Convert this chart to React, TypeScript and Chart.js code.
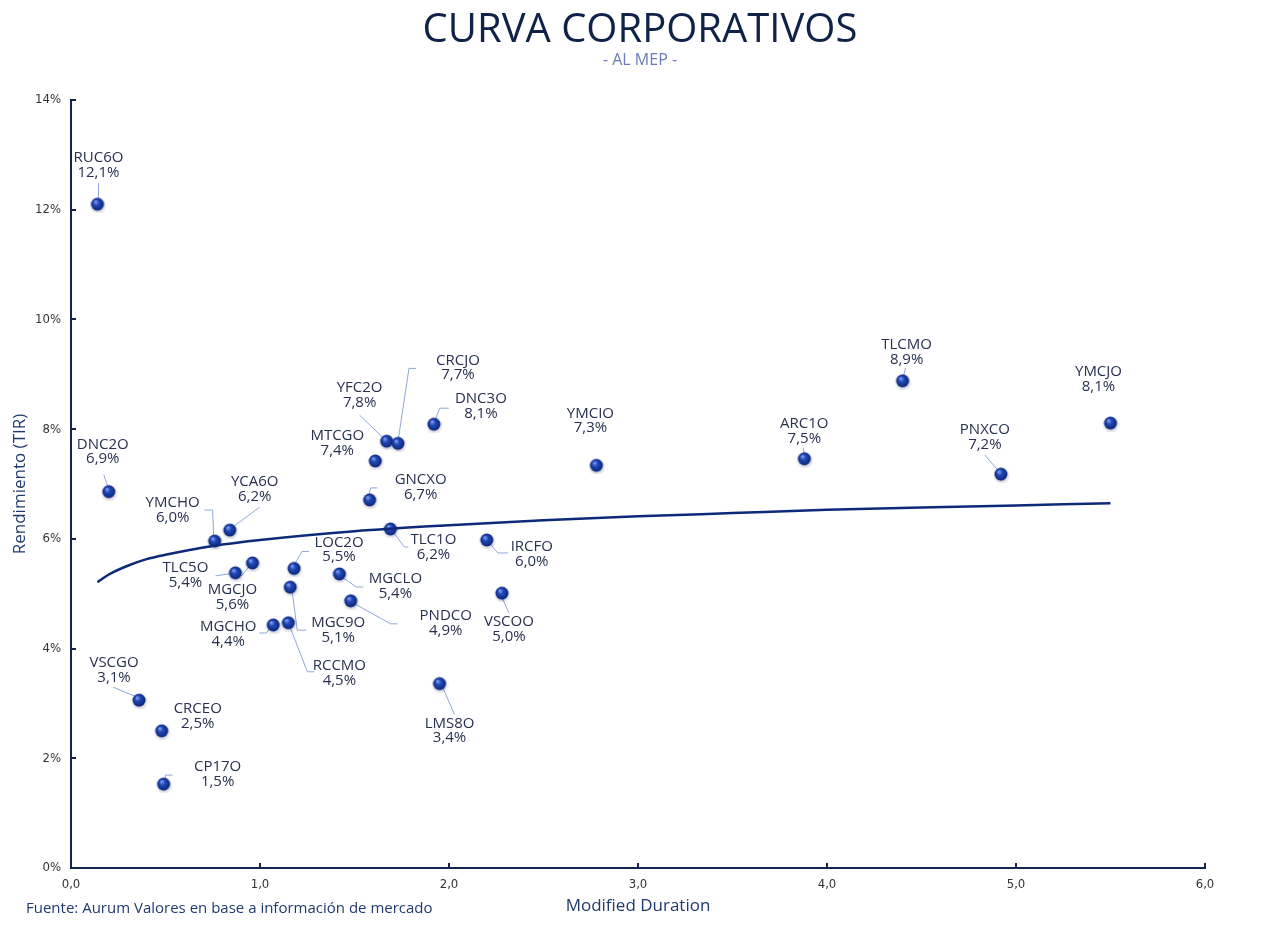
import React, { useEffect, useRef } from "react";
import { Chart, registerables } from "chart.js";

Chart.register(...registerables);

// ---------- DATA ----------
const bondNames = [
  "RUC6O", "DNC2O", "YMCHO", "YCA6O", "TLC5O", "MGCJO", "LOC2O", "MGC9O", "MGCHO", "RCCMO",
  "MGCLO", "PNDCO", "MTCGO", "GNCXO", "YFC2O", "CRCJO", "DNC3O", "TLC1O", "IRCFO", "VSCOO",
  "LMS8O", "YMCIO", "ARC1O", "TLCMO", "PNXCO", "YMCJO", "VSCGO", "CRCEO", "CP17O",
];
const durations = [
  0.14, 0.2, 0.76, 0.84, 0.87, 0.96, 1.18, 1.16, 1.07, 1.15,
  1.42, 1.48, 1.61, 1.58, 1.67, 1.73, 1.92, 1.69, 2.2, 2.28,
  1.95, 2.78, 3.88, 4.4, 4.92, 5.5, 0.36, 0.48, 0.49,
];
const yields = [
  12.1, 6.86, 5.96, 6.16, 5.38, 5.56, 5.46, 5.12, 4.43, 4.47,
  5.36, 4.87, 7.42, 6.71, 7.78, 7.74, 8.09, 6.18, 5.98, 5.01,
  3.36, 7.34, 7.46, 8.88, 7.18, 8.11, 3.06, 2.5, 1.53,
];
const trendDurations = [0.14, 0.2, 0.3, 0.4, 0.5, 0.75, 1.0, 1.5, 2.0, 2.5, 3.0, 3.5, 4.0, 4.5, 5.0, 5.5];
const trendYields = [5.21, 5.35, 5.51, 5.63, 5.71, 5.87, 5.98, 6.14, 6.25, 6.34, 6.41, 6.47, 6.53, 6.57, 6.61, 6.65];
const yTickValues = [0, 2, 4, 6, 8, 10, 12, 14];
const xTickValues = [0, 1, 2, 3, 4, 5, 6];

const TITLE = "CURVA CORPORATIVOS";
const SUBTITLE = "- AL MEP -";
const X_TITLE = "Modified Duration";
const Y_TITLE = "Rendimiento (TIR)";
const SOURCE = "Fuente: Aurum Valores en base a información de mercado";

// ---------- LABEL PLACEMENT (pixel offsets from each point) ----------
type Placement = { dx: number; dy: number; leader: number[][] };
const labelPlacement: Record<string, Placement> = {
  RUC6O: { dx: 1, dy: -46, leader: [[1, -21], [1, -6]] },
  DNC2O: { dx: -6, dy: -47, leader: [[-5, -17], [-1, -5]] },
  YMCHO: { dx: -42, dy: -38, leader: [[-10, -31], [-2, -31], [-1, -5]] },
  YCA6O: { dx: 25, dy: -48, leader: [[30, -23], [3, -3]] },
  TLC5O: { dx: -50, dy: -5, leader: [[-20, 3], [-6, 1]] },
  MGCJO: { dx: -20, dy: 27, leader: [[-11, 13], [-3, 3]] },
  LOC2O: { dx: 45, dy: -26, leader: [[15, -17], [8, -17], [1, -5]] },
  MGC9O: { dx: 48, dy: 36, leader: [[2, 5], [7, 43], [16, 43]] },
  MGCHO: { dx: -45, dy: 2, leader: [[-14, 8], [-7, 8], [-3, 3]] },
  RCCMO: { dx: 51, dy: 43, leader: [[2, 5], [19, 49], [26, 49]] },
  MGCLO: { dx: 56, dy: 5, leader: [[4, 4], [17, 13], [24, 13]] },
  PNDCO: { dx: 95, dy: 15, leader: [[4, 3], [40, 23], [47, 23]] },
  MTCGO: { dx: -38, dy: -25, leader: [] },
  GNCXO: { dx: 51, dy: -20, leader: [[-1, -4], [1, -12], [8, -12]] },
  YFC2O: { dx: -27, dy: -53, leader: [[-27, -26], [-3, -3]] },
  CRCJO: { dx: 60, dy: -83, leader: [[18, -75], [11, -75], [0, -2]] },
  DNC3O: { dx: 47, dy: -25, leader: [[1, -4], [6, -16], [15, -16]] },
  TLC1O: { dx: 43, dy: 11, leader: [[1, 1], [14, 18], [18, 18]] },
  IRCFO: { dx: 45, dy: 7, leader: [[1, 1], [11, 13], [21, 13]] },
  VSCOO: { dx: 7, dy: 29, leader: [[0, 4], [7, 20]] },
  LMS8O: { dx: 10, dy: 40, leader: [[2, 1], [15, 31]] },
  YMCIO: { dx: -6, dy: -52, leader: [] },
  ARC1O: { dx: 0, dy: -35, leader: [[-1, -11], [0, -4]] },
  TLCMO: { dx: 4, dy: -36, leader: [[3, -13], [1, -5]] },
  PNXCO: { dx: -16, dy: -44, leader: [[-16, -19], [-3, -4]] },
  YMCJO: { dx: -12, dy: -51, leader: [] },
  VSCGO: { dx: -25, dy: -37, leader: [[-26, -13], [-2, -3]] },
  CRCEO: { dx: 36, dy: -22, leader: [] },
  CP17O: { dx: 54, dy: -17, leader: [[1, -2], [2, -9], [9, -9]] },
};

const NAVY = "#14254d";
const TEXT = "#27314f";
const LEADER = "#8fa8dc";

const fmtPct = (v: number) => (Math.round(v * 10) / 10).toFixed(1).replace(".", ",") + "%";

function makeSphere(): HTMLCanvasElement {
  const c = document.createElement("canvas");
  c.width = 18;
  c.height = 18;
  const g = c.getContext("2d")!;
  const sh = g.createRadialGradient(9.5, 10.5, 4, 9.5, 10.5, 9);
  sh.addColorStop(0, "rgba(0,0,40,0.22)");
  sh.addColorStop(1, "rgba(0,0,40,0)");
  g.fillStyle = sh;
  g.beginPath();
  g.arc(9.5, 10.5, 9, 0, Math.PI * 2);
  g.fill();
  const grad = g.createRadialGradient(7, 6.5, 0.5, 9, 9, 7);
  grad.addColorStop(0, "#7d9cf0");
  grad.addColorStop(0.35, "#2148b8");
  grad.addColorStop(1, "#0a2170");
  g.fillStyle = grad;
  g.beginPath();
  g.arc(9, 9, 6.5, 0, Math.PI * 2);
  g.fill();
  return c;
}

export default function App() {
  const ref = useRef<HTMLCanvasElement | null>(null);

  useEffect(() => {
    if (!ref.current) return;
    const sphere = makeSphere();

    const decorPlugin = {
      id: "decor",
      beforeDraw(chart: any) {
        const { ctx, width, height } = chart;
        ctx.save();
        ctx.fillStyle = "#ffffff";
        ctx.fillRect(0, 0, width, height);
        ctx.restore();
      },
      beforeDatasetsDraw(chart: any) {
        const ctx = chart.ctx;
        const meta = chart.getDatasetMeta(1);
        ctx.save();
        ctx.strokeStyle = LEADER;
        ctx.lineWidth = 1;
        meta.data.forEach((el: any, i: number) => {
          const p = labelPlacement[bondNames[i]];
          if (!p || p.leader.length < 2) return;
          ctx.beginPath();
          p.leader.forEach((pt, k) => {
            const x = el.x + pt[0];
            const y = el.y + pt[1];
            if (k === 0) ctx.moveTo(x, y);
            else ctx.lineTo(x, y);
          });
          ctx.stroke();
        });
        ctx.restore();
      },
      afterDatasetsDraw(chart: any) {
        const ctx = chart.ctx;
        const meta = chart.getDatasetMeta(1);
        ctx.save();
        ctx.fillStyle = TEXT;
        ctx.font = "15px 'Open Sans'";
        ctx.textAlign = "center";
        ctx.textBaseline = "middle";
        meta.data.forEach((el: any, i: number) => {
          const p = labelPlacement[bondNames[i]] || { dx: 0, dy: -40, leader: [] };
          const x = el.x + p.dx;
          const y = el.y + p.dy;
          ctx.fillText(bondNames[i], x, y);
          ctx.fillText(fmtPct(yields[i]), x, y + 14.5);
        });
        ctx.restore();
      },
      afterDraw(chart: any) {
        const { ctx, chartArea, scales } = chart;
        ctx.save();
        ctx.strokeStyle = NAVY;
        ctx.lineWidth = 2;
        yTickValues.forEach((v) => {
          if (v === 0) return;
          const y = Math.round(scales.y.getPixelForValue(v));
          ctx.beginPath();
          ctx.moveTo(chartArea.left, y);
          ctx.lineTo(chartArea.left + 5, y);
          ctx.stroke();
        });
        xTickValues.forEach((v) => {
          if (v === 0) return;
          const x = Math.round(scales.x.getPixelForValue(v));
          ctx.beginPath();
          ctx.moveTo(x, chartArea.bottom);
          ctx.lineTo(x, chartArea.bottom - 5);
          ctx.stroke();
        });
        ctx.textAlign = "center";
        ctx.textBaseline = "middle";
        ctx.fillStyle = "#0f2248";
        ctx.font = "500 40px 'Open Sans'";
        ctx.fillText(TITLE, 640, 31);
        ctx.fillStyle = "#6b7cb8";
        ctx.font = "16px 'Open Sans'";
        ctx.fillText(SUBTITLE, 640, 60);
        ctx.textAlign = "left";
        ctx.fillStyle = "#1f3a6e";
        ctx.font = "15px 'Open Sans'";
        ctx.fillText(SOURCE, 26, 909);
        ctx.restore();
      },
    };

    const chart = new Chart(ref.current, {
      type: "scatter",
      data: {
        datasets: [
          {
            type: "line",
            label: "Tendencia",
            data: trendDurations.map((x, i) => ({ x, y: trendYields[i] })),
            borderColor: "#0d2a78",
            borderWidth: 2.5,
            pointRadius: 0,
            fill: false,
            cubicInterpolationMode: "monotone",
          } as any,
          {
            label: "Corporativos",
            data: durations.map((x, i) => ({ x, y: yields[i] })),
            pointStyle: sphere as any,
            pointRadius: 7,
            pointHoverRadius: 7,
          },
        ],
      },
      options: {
        animation: false,
        responsive: false,
        devicePixelRatio: 1,
        layout: { padding: { top: 100, right: 75, bottom: 0, left: 0 } },
        plugins: {
          legend: { display: false },
          tooltip: { enabled: false },
          title: { display: false },
        },
        scales: {
          x: {
            type: "linear",
            min: 0,
            max: 6,
            afterFit: (s: any) => {
              s.height = 60;
            },
            afterBuildTicks: (s: any) => {
              s.ticks = xTickValues.map((v) => ({ value: v }));
            },
            grid: { display: false, drawTicks: false },
            border: { display: true, color: NAVY, width: 2 },
            ticks: {
              padding: 9,
              color: "#333333",
              font: { family: "'DejaVu Sans Condensed', 'Liberation Sans Narrow', Roboto", size: 13 },
              callback: (v: any) => Number(v).toFixed(1).replace(".", ","),
            },
            title: {
              display: true,
              text: X_TITLE,
              color: "#1f3a6e",
              font: { family: "'Open Sans'", size: 17 },
              padding: { top: 0, bottom: 12 },
            },
          },
          y: {
            type: "linear",
            min: 0,
            max: 14,
            afterFit: (s: any) => {
              s.width = 71;
            },
            afterBuildTicks: (s: any) => {
              s.ticks = yTickValues.map((v) => ({ value: v }));
            },
            grid: { display: false, drawTicks: false },
            border: { display: true, color: NAVY, width: 2 },
            ticks: {
              padding: 10,
              color: "#333333",
              font: { family: "'DejaVu Sans Condensed', 'Liberation Sans Narrow', Roboto", size: 13 },
              callback: (v: any) => `${v}%`,
            },
            title: {
              display: true,
              text: Y_TITLE,
              color: "#1f3a6e",
              font: { family: "'Open Sans'", size: 17 },
              padding: { top: 10, bottom: 0 },
            },
          },
        },
      },
      plugins: [decorPlugin],
    });

    return () => chart.destroy();
  }, []);

  return (
    <div style={{ position: "absolute", left: 0, top: 0, width: 1280, height: 928, background: "#fff" }}>
      <canvas ref={ref} width={1280} height={928} style={{ display: "block", width: 1280, height: 928 }} />
    </div>
  );
}
